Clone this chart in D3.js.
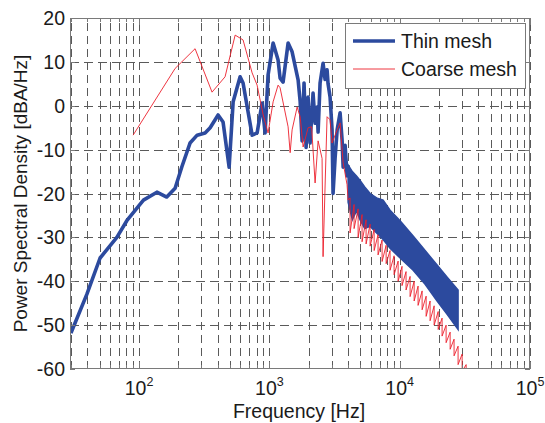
<!DOCTYPE html>
<html>
<head>
<meta charset="utf-8">
<script src="https://cdn.jsdelivr.net/npm/d3@7"></script>
<style>
  body { margin: 0; background: #fff; }
  svg { display: block; font-family: "Liberation Sans", Arial, sans-serif; }
</style>
</head>
<body>
<div id="chart"></div>
<script>
// Thin mesh, low/mid frequency part (Hz, dBA/Hz)
const thinFreq = [30, 39.7, 50.2, 67.5, 80.5, 108, 137, 163, 189, 213, 246, 279, 321, 351, 404, 441, 491, 527, 596, 628,
  737, 805, 879, 927, 977, 1068, 1166, 1208, 1274, 1392, 1494, 1661, 1722, 1782, 1845, 1913, 1982, 2052, 2163, 2243,
  2323, 2365, 2449, 2582, 2675, 2771, 2820, 2922, 3027, 3081, 3192, 3311, 3488, 3613, 3682, 3810, 3945, 4018];
const thinDb = [-51.8, -43, -34.7, -30, -26.2, -21.5, -19.7, -20.8, -18.8, -13.9, -8.5, -6.7, -6.2, -5, -2.1, -3.7, -14, 0.9, 6.6, 5.2,
  -6.7, -6.2, 0.6, -6.2, 7, 14.3, 10.4, 6.3, 5.4, 14.3, 12.3, 5.9, 1, -8, 5.2, -9.5, 2, -8.5, 2.9, -4,
  -0.3, -6, 5.2, 9.7, 6, 8.2, 5, 2, -5.5, -20, -12, -5.5, -1.6, -7.8, -14, -9, -16, -13.5];

// Thin mesh, high frequency band (dense oscillation: upper / lower envelope)
const thinBandFreq  = [4018, 4330, 4660, 4966, 5390, 5929, 6650, 7460, 8433, 10070, 12680, 15670, 19370, 23050, 28060];
const thinBandUpper = [-13.5, -15, -16, -17, -18.5, -20, -21, -21.5, -23.8, -26.2, -29.7, -33, -36.3, -39, -42];
const thinBandLower = [-22, -26, -24, -26, -28, -27.5, -29, -30.5, -32.5, -34.7, -37.5, -40.7, -44.5, -47.5, -51];

// Coarse mesh, low/mid frequency part
const coarseFreq = [90, 189, 269, 363, 457, 546, 628, 737, 805, 896, 977, 1068, 1166, 1208, 1392, 1443, 1494, 1633, 1722,
  1815, 1982, 2109, 2243, 2365, 2537, 2582, 2771, 2922, 3027, 3311, 3488, 3682, 3945, 4018];
const coarseDb = [-6.7, 8.5, 13, 3.1, 6.6, 16.1, 15, 7.5, 4.7, -2.1, -6.2, 0.9, 4.7, 4.1, -4.8, -10.7, -5.5, -0.3, -2.5,
  -9.4, -5, -4.8, -17.6, -8, -12, -34.4, -2.5, -3.2, -8.5, -5.5, -3.9, -13, -18, -21.5];

// Coarse mesh, high frequency sawtooth (peak / trough of each tooth)
const coarseBandFreq = [4159, 4467, 4797, 5143, 5521, 5929, 6368, 6823, 7328, 7870, 8433, 9057, 9727, 10420, 11190,
  12020, 12910, 13840, 14860, 15960, 17110, 18380, 19740, 21150, 22710, 24390, 26140, 28060, 30140, 32360];
const coarseBandUpper = [-21, -22.5, -23.5, -24.8, -26, -27, -28.2, -29.4, -30.6, -31.8, -33, -34.2, -35.4, -36.6, -37.8,
  -38.9, -40, -41.1, -42.2, -43.4, -44.5, -45.6, -46.9, -48.4, -50, -51.6, -53.2, -54.8, -56.6, -59];
const coarseBandLower = [-29, -28, -30, -31, -31.5, -32, -33, -34, -35.5, -36, -37.5, -38.5, -40, -41, -42,
  -43.5, -44.5, -45.5, -46.5, -48, -49, -50, -51, -52.5, -54, -55.5, -57, -59, -60.5, -62];

const yTicks = [-60, -50, -40, -30, -20, -10, 0, 10, 20];
const xTickExps = [2, 3, 4, 5];
const seriesNames = ['Thin mesh', 'Coarse mesh'];

const COLORS = {
  thin: '#2c4a9e',
  coarse: '#ec1f2b',
  grid: '#5a5a5a',
  box: '#7a7a7a',
  text: '#1a1a1a'
};

const FONT = 19.5;
const W = 545, H = 423;
const PLOT = { left: 70, right: 530, top: 18, bottom: 369 };

const x = d3.scaleLog().domain([29.5, 1e5]).range([PLOT.left, PLOT.right]);
const y = d3.scaleLinear().domain([-60, 20]).range([PLOT.bottom, PLOT.top]);

const svg = d3.select('#chart').append('svg')
  .attr('width', W)
  .attr('height', H);

svg.append('defs').append('clipPath')
    .attr('id', 'clip')
  .append('rect')
    .attr('x', PLOT.left)
    .attr('y', PLOT.top)
    .attr('width', PLOT.right - PLOT.left)
    .attr('height', PLOT.bottom - PLOT.top);

// Grid
let grid = svg.append('g');
let xt = x.ticks();
grid.selectAll('.vgrid')
    .data(xt)
  .enter().append('line')
    .attr('x1', d => Math.round(x(d)) + 0.5)
    .attr('x2', d => Math.round(x(d)) + 0.5)
    .attr('y1', PLOT.bottom)
    .attr('y2', PLOT.top)
    .attr('stroke', COLORS.grid)
    .attr('stroke-width', 1)
    .attr('stroke-dasharray', '8,5');
grid.selectAll('.hgrid')
    .data(yTicks.slice(1, -1))
  .enter().append('line')
    .attr('x1', PLOT.left)
    .attr('x2', PLOT.right)
    .attr('y1', d => Math.round(y(d)) + 0.5)
    .attr('y2', d => Math.round(y(d)) + 0.5)
    .attr('stroke', COLORS.grid)
    .attr('stroke-width', 1)
    .attr('stroke-dasharray', '9,5');

// Data
let plot = svg.append('g').attr('clip-path', 'url(#clip)');

let thinBand = thinBandFreq.map((f, i) => [f, thinBandUpper[i], thinBandLower[i]]);
plot.append('path')
  .datum(thinBand)
  .attr('fill', COLORS.thin)
  .attr('stroke', COLORS.thin)
  .attr('stroke-width', 1.5)
  .attr('d', d3.area()
    .x(d => x(d[0]))
    .y0(d => y(d[2]))
    .y1(d => y(d[1])));

let coarseLow = coarseFreq.map((f, i) => [f, coarseDb[i]]);
let coarseTeeth = [];
coarseBandFreq.forEach((f, i) => {
  coarseTeeth.push([f, coarseBandUpper[i]]);
  coarseTeeth.push([f, coarseBandLower[i]]);
});

let line = d3.line().x(d => x(d[0])).y(d => y(d[1]));

plot.append('path')
  .datum(thinFreq.map((f, i) => [f, thinDb[i]]))
  .attr('fill', 'none')
  .attr('stroke', COLORS.thin)
  .attr('stroke-width', 3.6)
  .attr('stroke-linejoin', 'round')
  .attr('d', line);

plot.append('path')
  .datum(coarseLow.concat(coarseTeeth))
  .attr('fill', 'none')
  .attr('stroke', COLORS.coarse)
  .attr('stroke-width', 0.9)
  .attr('d', line);

// Box and ticks
svg.append('rect')
  .attr('x', PLOT.left + 0.5)
  .attr('y', PLOT.top + 0.5)
  .attr('width', PLOT.right - PLOT.left - 1)
  .attr('height', PLOT.bottom - PLOT.top - 1)
  .attr('fill', 'none')
  .attr('stroke', COLORS.box)
  .attr('stroke-width', 1);

let ticks = svg.append('g').attr('stroke', COLORS.box).attr('stroke-width', 1);
for (let d of xt) {
  let px = Math.round(x(d)) + 0.5;
  let len = Number.isInteger(Math.log10(d)) ? 7 : 4;
  ticks.append('line').attr('x1', px).attr('x2', px).attr('y1', PLOT.bottom).attr('y2', PLOT.bottom - len);
  ticks.append('line').attr('x1', px).attr('x2', px).attr('y1', PLOT.top).attr('y2', PLOT.top + len);
}
for (let d of yTicks) {
  let py = Math.round(y(d)) + 0.5;
  ticks.append('line').attr('x1', PLOT.left).attr('x2', PLOT.left + 5).attr('y1', py).attr('y2', py);
  ticks.append('line').attr('x1', PLOT.right).attr('x2', PLOT.right - 5).attr('y1', py).attr('y2', py);
}

// Tick labels
svg.selectAll('.ylab')
    .data(yTicks)
  .enter().append('text')
    .attr('x', PLOT.left - 5)
    .attr('y', d => y(d))
    .attr('dy', '0.36em')
    .attr('text-anchor', 'end')
    .attr('font-size', FONT)
    .attr('fill', COLORS.text)
    .text(d => d);

let xl = svg.selectAll('.xlab')
    .data(xTickExps)
  .enter().append('text')
    .attr('x', d => x(Math.pow(10, d)))
    .attr('y', 395)
    .attr('text-anchor', 'middle')
    .attr('font-size', FONT)
    .attr('fill', COLORS.text);
xl.append('tspan').text('10');
xl.append('tspan').attr('dy', -9).attr('font-size', 12.5).text(d => d);

// Axis titles
svg.append('text')
  .attr('x', 299)
  .attr('y', 418)
  .attr('text-anchor', 'middle')
  .attr('font-size', FONT)
  .attr('fill', COLORS.text)
  .text('Frequency [Hz]');

svg.append('text')
  .attr('transform', `translate(27,${(PLOT.top + PLOT.bottom) / 2}) rotate(-90)`)
  .attr('text-anchor', 'middle')
  .attr('font-size', 19)
  .attr('fill', COLORS.text)
  .text('Power Spectral Density [dBA/Hz]');

// Legend
let legend = svg.append('g');
legend.append('rect')
  .attr('x', 345.5)
  .attr('y', 23.5)
  .attr('width', 180)
  .attr('height', 65)
  .attr('fill', '#fff')
  .attr('stroke', COLORS.box);
seriesNames.forEach((name, i) => {
  let ly = 41 + i * 28;
  legend.append('line')
    .attr('x1', 353).attr('x2', 395)
    .attr('y1', ly).attr('y2', ly)
    .attr('stroke', i ? COLORS.coarse : COLORS.thin)
    .attr('stroke-width', i ? 0.9 : 3.6);
  legend.append('text')
    .attr('x', 401)
    .attr('y', ly)
    .attr('dy', '0.36em')
    .attr('font-size', FONT)
    .attr('fill', COLORS.text)
    .text(name);
});
</script>
</body>
</html>
